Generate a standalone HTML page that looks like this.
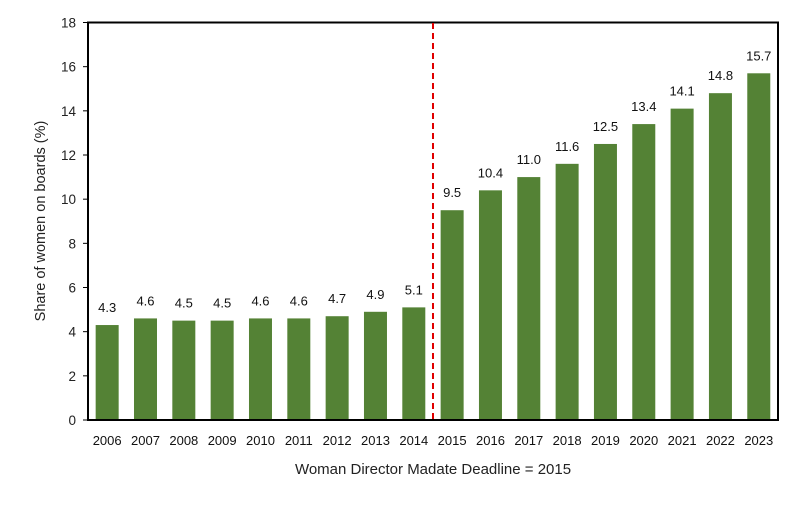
<!DOCTYPE html><html><head><style>body{margin:0;background:#fff}</style></head><body>
<svg width="800" height="508" xmlns="http://www.w3.org/2000/svg" font-family="Liberation Sans, DejaVu Sans, sans-serif">
<rect width="800" height="508" fill="#fff"/>
<g id="bars" fill="#548235"></g>
<rect x="88" y="22.5" width="690" height="397.5" fill="none" stroke="#000" stroke-width="2"/>
<line x1="433" y1="23" x2="433" y2="420" stroke="#e00000" stroke-width="2" stroke-dasharray="6,4"/>
<g id="yt" font-size="13.5" fill="#222" text-anchor="end"></g>
<g id="lbl" font-size="13" fill="#111" text-anchor="middle"></g>
<text transform="translate(45,221) rotate(-90)" font-size="14.5" fill="#222" text-anchor="middle">Share of women  on boards (%)</text>
<text x="433" y="474" font-size="15" fill="#222" text-anchor="middle">Woman Director Madate Deadline = 2015</text>
<script>
var v=[4.3,4.6,4.5,4.5,4.6,4.6,4.7,4.9,5.1,9.5,10.4,11.0,11.6,12.5,13.4,14.1,14.8,15.7];
var ns="http://www.w3.org/2000/svg",b=document.getElementById('bars'),l=document.getElementById('lbl'),yt=document.getElementById('yt');
function y(t){return 420-t*22.083;}
for(var i=0;i<18;i++){var cx=88+38.33*(i+0.5);
var r=document.createElementNS(ns,'rect');r.setAttribute('x',cx-11.5);r.setAttribute('width',23);r.setAttribute('y',y(v[i]));r.setAttribute('height',420-y(v[i]));b.appendChild(r);
var t=document.createElementNS(ns,'text');t.setAttribute('x',cx);t.setAttribute('y',y(v[i])-13);t.textContent=v[i].toFixed(1);l.appendChild(t);
t=document.createElementNS(ns,'text');t.setAttribute('x',cx);t.setAttribute('y',445);t.textContent=2006+i;l.appendChild(t);}
for(var k=0;k<=18;k+=2){var t=document.createElementNS(ns,'text');t.setAttribute('x',76);t.setAttribute('y',y(k)+5);t.textContent=k;yt.appendChild(t);
var ln=document.createElementNS(ns,'line');ln.setAttribute('x1',83);ln.setAttribute('x2',88);ln.setAttribute('y1',y(k));ln.setAttribute('y2',y(k));ln.setAttribute('stroke','#000');yt.appendChild(ln);}
</script>
</svg></body></html>
